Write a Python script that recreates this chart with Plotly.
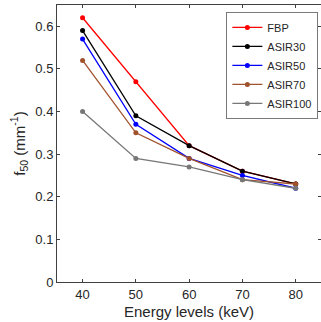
import plotly.graph_objects as go

energy = [40, 50, 60, 70, 80]
fbp = [0.62, 0.47, 0.32, 0.26, 0.23]
asir30 = [0.59, 0.39, 0.32, 0.26, 0.23]
asir50 = [0.57, 0.37, 0.29, 0.25, 0.22]
asir70 = [0.52, 0.35, 0.29, 0.24, 0.23]
asir100 = [0.40, 0.29, 0.27, 0.24, 0.22]

names = ["FBP", "ASIR30", "ASIR50", "ASIR70", "ASIR100"]
series = [fbp, asir30, asir50, asir70, asir100]
colors = ["#FF0000", "#000000", "#0000FF", "#A0522D", "#777777"]

fig = go.Figure()
for n, s, c in zip(names, series, colors):
    fig.add_trace(go.Scatter(x=energy, y=s, name=n, mode="lines+markers",
                             line=dict(color=c, width=1.3),
                             marker=dict(color=c, size=5)))

axis_col = "#404040"
fig.update_layout(
    width=321, height=322,
    margin=dict(l=57, r=0, t=5, b=40),
    plot_bgcolor="white", paper_bgcolor="white",
    font=dict(family="Liberation Sans, Arial", size=13, color="#262626"),
    showlegend=True,
    legend=dict(x=0.99, y=0.975, xanchor="right", yanchor="top",
                bgcolor="white", bordercolor="#7a7a7a", borderwidth=1,
                font=dict(size=11, color="#262626"), tracegroupgap=0,
                itemwidth=30),
    xaxis=dict(range=[35.2, 84.75], tickvals=[40, 50, 60, 70, 80],
               ticks="inside", ticklen=3, tickcolor=axis_col,
               showline=True, linecolor=axis_col, linewidth=1, mirror="ticks",
               showgrid=False, zeroline=False,
               title=dict(text="Energy levels (keV)", standoff=5,
                          font=dict(size=15))),
    yaxis=dict(range=[0, 0.65], tickvals=[0, 0.1, 0.2, 0.3, 0.4, 0.5, 0.6],
               ticktext=["0", "0.1", "0.2", "0.3", "0.4", "0.5", "0.6"],
               ticks="inside", ticklen=3, tickcolor=axis_col,
               showline=True, linecolor=axis_col, linewidth=1, mirror="ticks",
               showgrid=False, zeroline=False,
               title=dict(text="f<sub>50</sub> (mm<sup>-1</sup>)", standoff=6,
                          font=dict(size=15))),
)

fig.write_html("out.html", config={"displayModeBar": False},
               post_script="document.body.style.margin='0';")
